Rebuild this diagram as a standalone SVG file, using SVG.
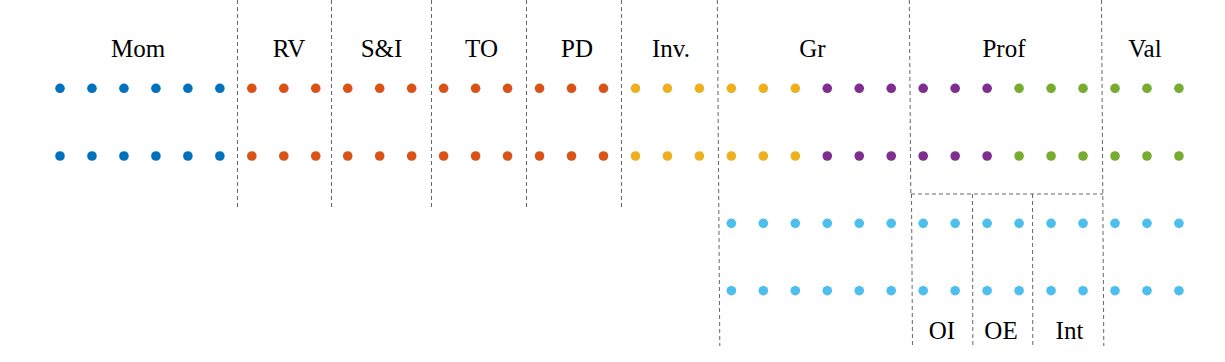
<svg xmlns="http://www.w3.org/2000/svg" width="1225" height="362" viewBox="0 0 1225 362">
<style>
.lbl{font-family:"Liberation Serif","Times New Roman",serif;font-size:25px;fill:#000;text-anchor:middle}
.d{stroke:#666;stroke-width:1;stroke-dasharray:4 3;fill:none}
.b{fill:#0072BD}.o{fill:#D95319}.y{fill:#EDB120}.p{fill:#7E2F8E}.g{fill:#77AC30}.c{fill:#4DBEEE}
</style>
<defs>
<circle id="dot" r="4.8"/>
</defs>
<rect width="1225" height="362" fill="#fff"/>
<g id="connectors">
<line class="d" x1="237.5" y1="0" x2="237.5" y2="208"/>
<line class="d" x1="331.5" y1="0" x2="331.5" y2="208"/>
<line class="d" x1="431.5" y1="0" x2="431.5" y2="208"/>
<line class="d" x1="526.5" y1="0" x2="526.5" y2="208"/>
<line class="d" x1="621.5" y1="0" x2="621.5" y2="208"/>
<line class="d" x1="717.3" y1="0" x2="719.8" y2="346"/>
<line class="d" x1="909.3" y1="0" x2="910.8" y2="194"/>
<line class="d" x1="1101.5" y1="0" x2="1103.8" y2="346"/>
<line class="d" x1="911" y1="194" x2="1103" y2="194"/>
<line class="d" x1="911.5" y1="194" x2="912.5" y2="346"/>
<line class="d" x1="972.5" y1="194" x2="972.8" y2="346"/>
<line class="d" x1="1032.5" y1="194" x2="1032.8" y2="346"/>
</g>
<g id="labels">
<text class="lbl" x="138" y="56.5">Mom</text>
<text class="lbl" x="289" y="56.5">RV</text>
<text class="lbl" x="381.5" y="56.5">S&amp;I</text>
<text class="lbl" x="481.5" y="56.5">TO</text>
<text class="lbl" x="577" y="56.5">PD</text>
<text class="lbl" x="671" y="56.5">Inv.</text>
<text class="lbl" x="812.5" y="56.5">Gr</text>
<text class="lbl" x="1004" y="56.5">Prof</text>
<text class="lbl" x="1145" y="56.5">Val</text>
<text class="lbl" x="942" y="339">OI</text>
<text class="lbl" x="1001" y="339">OE</text>
<text class="lbl" x="1069.5" y="339">Int</text>
</g>
<g id="row1">
<use href="#dot" class="b" x="60" y="88.3"/><use href="#dot" class="b" x="91.97" y="88.3"/><use href="#dot" class="b" x="123.94" y="88.3"/><use href="#dot" class="b" x="155.91" y="88.3"/><use href="#dot" class="b" x="187.88" y="88.3"/><use href="#dot" class="b" x="219.85" y="88.3"/>
<use href="#dot" class="o" x="251.82" y="88.3"/><use href="#dot" class="o" x="283.79" y="88.3"/><use href="#dot" class="o" x="315.76" y="88.3"/><use href="#dot" class="o" x="347.73" y="88.3"/><use href="#dot" class="o" x="379.7" y="88.3"/><use href="#dot" class="o" x="411.67" y="88.3"/><use href="#dot" class="o" x="443.64" y="88.3"/><use href="#dot" class="o" x="475.61" y="88.3"/><use href="#dot" class="o" x="507.58" y="88.3"/><use href="#dot" class="o" x="539.55" y="88.3"/><use href="#dot" class="o" x="571.52" y="88.3"/><use href="#dot" class="o" x="603.49" y="88.3"/>
<use href="#dot" class="y" x="635.46" y="88.3"/><use href="#dot" class="y" x="667.43" y="88.3"/><use href="#dot" class="y" x="699.4" y="88.3"/><use href="#dot" class="y" x="731.37" y="88.3"/><use href="#dot" class="y" x="763.34" y="88.3"/><use href="#dot" class="y" x="795.31" y="88.3"/>
<use href="#dot" class="p" x="827.28" y="88.3"/><use href="#dot" class="p" x="859.25" y="88.3"/><use href="#dot" class="p" x="891.22" y="88.3"/><use href="#dot" class="p" x="923.19" y="88.3"/><use href="#dot" class="p" x="955.16" y="88.3"/><use href="#dot" class="p" x="987.13" y="88.3"/>
<use href="#dot" class="g" x="1019.1" y="88.3"/><use href="#dot" class="g" x="1051.07" y="88.3"/><use href="#dot" class="g" x="1083.04" y="88.3"/><use href="#dot" class="g" x="1115.01" y="88.3"/><use href="#dot" class="g" x="1146.98" y="88.3"/><use href="#dot" class="g" x="1178.95" y="88.3"/>
</g>
<g id="row2">
<use href="#dot" class="b" x="60" y="156"/><use href="#dot" class="b" x="91.97" y="156"/><use href="#dot" class="b" x="123.94" y="156"/><use href="#dot" class="b" x="155.91" y="156"/><use href="#dot" class="b" x="187.88" y="156"/><use href="#dot" class="b" x="219.85" y="156"/>
<use href="#dot" class="o" x="251.82" y="156"/><use href="#dot" class="o" x="283.79" y="156"/><use href="#dot" class="o" x="315.76" y="156"/><use href="#dot" class="o" x="347.73" y="156"/><use href="#dot" class="o" x="379.7" y="156"/><use href="#dot" class="o" x="411.67" y="156"/><use href="#dot" class="o" x="443.64" y="156"/><use href="#dot" class="o" x="475.61" y="156"/><use href="#dot" class="o" x="507.58" y="156"/><use href="#dot" class="o" x="539.55" y="156"/><use href="#dot" class="o" x="571.52" y="156"/><use href="#dot" class="o" x="603.49" y="156"/>
<use href="#dot" class="y" x="635.46" y="156"/><use href="#dot" class="y" x="667.43" y="156"/><use href="#dot" class="y" x="699.4" y="156"/><use href="#dot" class="y" x="731.37" y="156"/><use href="#dot" class="y" x="763.34" y="156"/><use href="#dot" class="y" x="795.31" y="156"/>
<use href="#dot" class="p" x="827.28" y="156"/><use href="#dot" class="p" x="859.25" y="156"/><use href="#dot" class="p" x="891.22" y="156"/><use href="#dot" class="p" x="923.19" y="156"/><use href="#dot" class="p" x="955.16" y="156"/><use href="#dot" class="p" x="987.13" y="156"/>
<use href="#dot" class="g" x="1019.1" y="156"/><use href="#dot" class="g" x="1051.07" y="156"/><use href="#dot" class="g" x="1083.04" y="156"/><use href="#dot" class="g" x="1115.01" y="156"/><use href="#dot" class="g" x="1146.98" y="156"/><use href="#dot" class="g" x="1178.95" y="156"/>
</g>
<g id="row3">
<use href="#dot" class="c" x="731.37" y="223.3"/><use href="#dot" class="c" x="763.34" y="223.3"/><use href="#dot" class="c" x="795.31" y="223.3"/><use href="#dot" class="c" x="827.28" y="223.3"/><use href="#dot" class="c" x="859.25" y="223.3"/><use href="#dot" class="c" x="891.22" y="223.3"/><use href="#dot" class="c" x="923.19" y="223.3"/><use href="#dot" class="c" x="955.16" y="223.3"/><use href="#dot" class="c" x="987.13" y="223.3"/><use href="#dot" class="c" x="1019.1" y="223.3"/><use href="#dot" class="c" x="1051.07" y="223.3"/><use href="#dot" class="c" x="1083.04" y="223.3"/><use href="#dot" class="c" x="1115.01" y="223.3"/><use href="#dot" class="c" x="1146.98" y="223.3"/><use href="#dot" class="c" x="1178.95" y="223.3"/>
</g>
<g id="row4">
<use href="#dot" class="c" x="731.37" y="290.7"/><use href="#dot" class="c" x="763.34" y="290.7"/><use href="#dot" class="c" x="795.31" y="290.7"/><use href="#dot" class="c" x="827.28" y="290.7"/><use href="#dot" class="c" x="859.25" y="290.7"/><use href="#dot" class="c" x="891.22" y="290.7"/><use href="#dot" class="c" x="923.19" y="290.7"/><use href="#dot" class="c" x="955.16" y="290.7"/><use href="#dot" class="c" x="987.13" y="290.7"/><use href="#dot" class="c" x="1019.1" y="290.7"/><use href="#dot" class="c" x="1051.07" y="290.7"/><use href="#dot" class="c" x="1083.04" y="290.7"/><use href="#dot" class="c" x="1115.01" y="290.7"/><use href="#dot" class="c" x="1146.98" y="290.7"/><use href="#dot" class="c" x="1178.95" y="290.7"/>
</g>
</svg>
